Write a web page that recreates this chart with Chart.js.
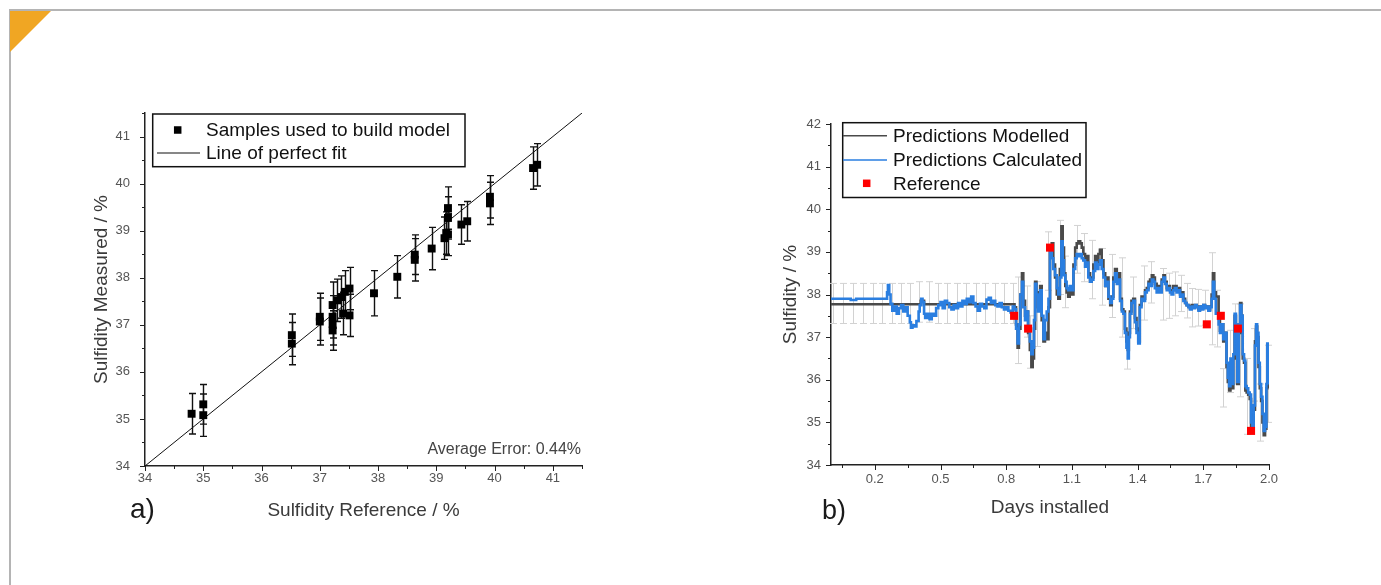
<!DOCTYPE html>
<html>
<head>
<meta charset="utf-8">
<script src="https://cdn.jsdelivr.net/npm/chart.js@4.4.1/dist/chart.umd.min.js"></script>
<style>
html,body{margin:0;padding:0;background:#fff;}
#page{position:relative;width:1381px;height:585px;overflow:hidden;font-family:"Liberation Sans",Arial,sans-serif;}
#frameTop{position:absolute;left:9px;top:9px;width:1372px;height:2px;background:#b4b4b4;}
#frameLeft{position:absolute;left:9px;top:9px;width:2px;height:576px;background:#b4b4b4;}
#corner{position:absolute;left:10px;top:11px;width:0;height:0;border-top:41px solid #f0a623;border-right:41px solid transparent;}
canvas{position:absolute;}
.lbl{position:absolute;white-space:nowrap;}
</style>
</head>
<body>
<div id="page">
  <div id="frameTop"></div>
  <div id="frameLeft"></div>
  <div id="corner"></div>
  <canvas id="chartA" width="540" height="436" style="left:60px;top:90px;width:540px;height:436px;"></canvas>
  <canvas id="chartB" width="560" height="430" style="left:750px;top:95px;width:560px;height:430px;"></canvas>
  <div class="lbl" style="left:130px;top:495px;font-size:28px;line-height:28px;color:#1a1a1a;">a)</div>
  <div class="lbl" style="left:822px;top:497px;font-size:27px;line-height:27px;color:#1a1a1a;">b)</div>
  <div class="lbl" style="right:800px;top:441px;font-size:16px;line-height:16px;color:#444;">Average Error: 0.44%</div>
</div>
<script>
// ---------- Chart a) data ----------
const sampleRef = [34.8,35.0,35.0,36.52,36.52,37.0,37.0,37.22,37.22,37.22,37.22,37.3,37.37,37.4,37.43,37.51,37.51,37.93,38.33,38.63,38.63,38.92,39.14,39.17,39.2,39.2,39.2,39.43,39.53,39.92,39.92,40.66,40.73];
const sampleMeas = [35.11,35.31,35.08,36.78,36.6,37.17,37.07,37.42,37.17,36.88,37.02,37.52,37.59,37.24,37.7,37.77,37.2,37.67,38.02,38.38,38.49,38.62,38.84,38.95,39.48,39.27,38.92,39.13,39.2,39.72,39.58,40.33,40.4];
const sampleErr = [0.43,0.42,0.45,0.45,0.45,0.5,0.5,0.49,0.45,0.42,0.45,0.45,0.45,0.45,0.45,0.45,0.45,0.48,0.45,0.45,0.42,0.45,0.45,0.45,0.45,0.45,0.45,0.42,0.42,0.45,0.45,0.45,0.45];
const perfectFit = [[34,34],[41.5,41.5]];
const aTicks = [34,34.5,35,35.5,36,36.5,37,37.5,38,38.5,39,39.5,40,40.5,41,41.5];
const aMajor = [34,35,36,37,38,39,40,41];

// ---------- Chart b) data ----------
const calculatedPoints = [
[0,37.90],[0.085,37.90],[0.09,37.87],[0.11,37.87],[0.115,37.90],[0.25,37.90],[0.256,38.05],[0.26,38.22],[0.266,38.0],[0.272,37.78],
[0.28,37.62],[0.29,37.72],[0.30,37.55],[0.31,37.68],[0.32,37.75],[0.33,37.6],[0.34,37.7],[0.35,37.5],[0.36,37.35],[0.365,37.22],
[0.372,37.28],[0.38,37.25],[0.39,37.38],[0.40,37.6],[0.405,37.75],[0.412,37.9],[0.418,37.82],[0.425,37.55],[0.43,37.45],[0.44,37.55],
[0.45,37.42],[0.46,37.55],[0.47,37.5],[0.48,37.68],[0.49,37.75],[0.50,37.82],[0.51,37.68],[0.52,37.85],[0.53,37.8],[0.54,37.7],
[0.55,37.65],[0.56,37.75],[0.57,37.68],[0.58,37.8],[0.59,37.72],[0.60,37.85],[0.61,37.78],[0.62,37.9],[0.63,37.82],[0.64,37.95],
[0.65,37.8],[0.66,37.72],[0.67,37.62],[0.68,37.78],[0.69,37.72],[0.70,37.68],[0.71,37.88],[0.72,37.92],[0.73,37.8],[0.74,37.85],
[0.75,37.75],[0.76,37.72],[0.77,37.8],[0.78,37.7],[0.79,37.65],[0.80,37.7],[0.81,37.62],[0.82,37.58],[0.83,37.72],[0.838,37.65],
[0.845,37.2],[0.852,36.85],[0.858,37.3],[0.865,38.0],[0.872,38.3],[0.878,37.7],[0.886,37.4],[0.893,37.6],[0.90,37.25],[0.908,36.9],
[0.915,36.6],[0.921,36.75],[0.927,37.4],[0.932,38.25],[0.938,38.0],[0.945,37.6],[0.95,37.8],[0.955,38.1],[0.962,37.5],[0.97,36.95],
[0.977,37.4],[0.985,37.6],[0.993,37.9],[1.0,39.0],[1.008,38.85],[1.015,38.6],[1.023,38.45],[1.031,38.15],[1.038,38.0],[1.045,38.4],
[1.052,39.25],[1.058,38.8],[1.064,38.45],[1.07,38.3],[1.076,38.15],[1.083,38.1],[1.09,38.2],[1.099,38.1],[1.107,38.6],[1.115,38.85],
[1.122,38.95],[1.13,38.9],[1.138,38.95],[1.145,38.85],[1.152,38.8],[1.16,38.65],[1.167,38.75],[1.175,38.4],[1.183,38.3],[1.19,38.35],
[1.198,38.55],[1.206,38.75],[1.213,38.6],[1.221,38.7],[1.228,38.8],[1.236,38.6],[1.244,38.4],[1.252,38.2],[1.259,38.3],[1.267,37.95],
[1.275,37.8],[1.282,37.9],[1.289,38.3],[1.297,38.5],[1.305,38.25],[1.312,38.35],[1.32,37.85],[1.328,37.6],[1.335,37.55],[1.342,37.1],
[1.349,36.75],[1.355,36.5],[1.36,37.0],[1.365,37.55],[1.372,37.8],[1.38,37.85],[1.388,37.35],[1.395,37.1],[1.403,36.85],[1.41,37.7],
[1.418,37.9],[1.426,37.85],[1.434,38.05],[1.442,38.1],[1.45,38.25],[1.457,38.2],[1.465,38.35],[1.472,38.3],[1.479,38.15],[1.487,38.05],
[1.495,38.15],[1.502,38.05],[1.51,38.3],[1.518,38.4],[1.525,38.25],[1.533,38.1],[1.54,38.15],[1.548,38.05],[1.555,38.0],[1.563,38.1],
[1.57,38.15],[1.578,38.05],[1.586,38.1],[1.594,37.95],[1.601,38.0],[1.609,37.85],[1.617,37.8],[1.624,37.75],[1.632,37.7],[1.639,37.65],
[1.647,37.72],[1.655,37.68],[1.662,37.75],[1.67,37.7],[1.678,37.62],[1.685,37.72],[1.693,37.65],[1.70,37.75],[1.708,37.68],[1.716,37.72],
[1.723,37.62],[1.731,37.7],[1.738,37.9],[1.744,38.3],[1.75,37.9],[1.757,37.55],[1.764,37.55],[1.77,37.3],[1.776,37.1],[1.783,37.3],
[1.791,36.95],[1.798,37.1],[1.806,36.4],[1.812,36.05],[1.818,35.85],[1.824,36.5],[1.83,35.9],[1.837,36.6],[1.843,37.55],[1.849,37.3],
[1.855,35.95],[1.862,37.2],[1.868,37.75],[1.874,37.5],[1.88,36.6],[1.886,36.45],[1.892,35.85],[1.898,35.8],[1.905,35.7],[1.912,35.65],
[1.918,35.0],[1.924,34.85],[1.93,35.4],[1.936,36.8],[1.941,37.3],[1.946,37.1],[1.952,36.4],[1.958,35.9],[1.964,35.6],[1.97,35.2],
[1.976,34.8],[1.982,34.9],[1.988,35.9],[1.992,36.85],[1.995,35.9]
];
const modelledPoints = [
[0,37.77],[0.40,37.77],[0.41,37.85],[0.42,37.85],[0.425,37.77],[0.83,37.77],[0.838,37.7],
[0.845,37.3],[0.852,36.75],[0.858,37.2],[0.865,38.0],[0.872,38.5],[0.878,37.85],[0.886,37.5],[0.893,37.6],[0.90,37.1],[0.908,36.7],
[0.915,36.3],[0.921,36.5],[0.927,37.2],[0.932,38.3],[0.938,38.05],[0.945,37.7],[0.95,37.85],[0.955,38.2],[0.962,37.4],[0.97,36.9],
[0.977,37.1],[0.985,36.95],[0.993,37.7],[1.0,39.1],[1.008,39.2],[1.015,38.7],[1.023,38.4],[1.031,38.0],[1.038,37.9],[1.045,38.6],
[1.052,39.6],[1.058,39.1],[1.064,38.5],[1.07,38.2],[1.076,38.05],[1.083,37.95],[1.09,38.1],[1.099,38.0],[1.107,38.7],[1.115,39.1],
[1.122,39.2],[1.13,39.25],[1.138,39.2],[1.145,39.1],[1.152,38.95],[1.16,38.8],[1.167,38.9],[1.175,38.5],[1.183,38.3],[1.19,38.4],
[1.198,38.7],[1.206,38.9],[1.213,38.75],[1.221,38.95],[1.228,39.05],[1.236,38.8],[1.244,38.5],[1.252,38.2],[1.259,38.4],[1.267,37.9],
[1.275,37.75],[1.282,37.95],[1.289,38.4],[1.297,38.6],[1.305,38.35],[1.312,38.5],[1.32,37.9],[1.328,37.65],[1.335,37.6],[1.342,37.2],
[1.349,36.9],[1.355,36.7],[1.36,37.1],[1.365,37.6],[1.372,37.85],[1.38,37.9],[1.388,37.45],[1.395,37.2],[1.403,36.9],[1.41,37.75],
[1.418,37.95],[1.426,37.9],[1.434,38.1],[1.442,38.15],[1.45,38.3],[1.457,38.35],[1.465,38.45],[1.472,38.4],[1.479,38.25],[1.487,38.15],
[1.495,38.2],[1.502,38.1],[1.51,38.35],[1.518,38.45],[1.525,38.3],[1.533,38.15],[1.54,38.2],[1.548,38.1],[1.555,38.1],[1.563,38.2],
[1.57,38.2],[1.578,38.1],[1.586,38.15],[1.594,38.0],[1.601,38.05],[1.609,37.9],[1.617,37.8],[1.624,37.75],[1.632,37.72],[1.639,37.68],
[1.647,37.75],[1.655,37.7],[1.662,37.75],[1.67,37.72],[1.678,37.65],[1.685,37.72],[1.693,37.68],[1.70,37.75],[1.708,37.7],[1.716,37.72],
[1.723,37.65],[1.731,37.72],[1.738,38.0],[1.744,38.5],[1.75,38.05],[1.757,37.95],[1.764,37.95],[1.77,37.5],[1.776,37.15],[1.783,37.3],
[1.791,36.9],[1.798,37.1],[1.806,36.3],[1.812,35.95],[1.818,35.75],[1.824,36.4],[1.83,35.8],[1.837,36.5],[1.843,37.5],[1.849,37.3],
[1.855,35.9],[1.862,37.1],[1.868,37.8],[1.874,37.5],[1.88,36.5],[1.886,36.4],[1.892,35.75],[1.898,35.7],[1.905,35.65],[1.912,35.55],
[1.918,34.9],[1.924,34.8],[1.93,35.3],[1.936,36.9],[1.941,37.25],[1.946,37.0],[1.952,36.3],[1.958,35.8],[1.964,35.5],[1.97,35.0],
[1.976,34.7],[1.982,34.85],[1.988,35.8],[1.992,36.8],[1.995,35.8]
];
const referenceDays = [0.836,0.90,1.0,1.716,1.78,1.858,1.918];
const referenceValues = [37.5,37.2,39.1,37.3,37.5,37.2,34.8];
const errDays = [0.011,0.056,0.102,0.148,0.19,0.231,0.277,0.318,0.361,0.403,0.447,0.49,0.531,0.574,0.617,0.66,0.703,0.749,0.79,0.829,
  0.852,0.893,0.908,0.939,0.99,1.046,1.068,1.122,1.157,1.19,1.236,1.281,1.327,1.35,1.381,1.429,1.461,1.515,1.545,1.571,1.597,1.624,1.647,1.677,1.708,1.738,1.761,1.791,1.822,1.845,1.868,1.9,1.93,1.96,1.997];
const errLow = [37.32,37.32,37.32,37.32,37.32,37.32,37.32,37.32,37.32,37.35,37.35,37.32,37.32,37.32,37.32,37.32,37.32,37.32,37.32,37.32,
  36.38,37.0,36.27,36.78,38.1,38.0,37.69,38.5,38.3,37.9,37.75,37.46,37.0,36.25,37.2,37.4,37.8,37.4,37.44,37.5,37.6,37.45,37.24,37.26,37.28,36.82,36.77,35.36,35.7,35.9,35.6,34.72,35.5,34.56,35.0];
const errHigh = [38.26,38.26,38.26,38.26,38.26,38.26,38.26,38.26,38.26,38.3,38.3,38.26,38.26,38.26,38.26,38.26,38.26,38.26,38.26,38.26,
  38.41,38.2,37.5,38.3,39.47,39.74,38.9,39.62,39.43,39.27,39.08,38.94,38.86,37.12,38.41,38.67,38.77,38.61,38.5,38.53,38.45,38.26,38.14,38.12,38.1,38.98,38.1,36.26,37.16,37.78,37.78,36.5,37.2,35.9,36.81];
const bTicksX = [0.05,0.2,0.35,0.5,0.65,0.8,0.95,1.1,1.25,1.4,1.55,1.7,1.85,2.0];
const bMajorX = [0.2,0.5,0.8,1.1,1.4,1.7,2.0];
const bTicksY = [34,34.5,35,35.5,36,36.5,37,37.5,38,38.5,39,39.5,40,40.5,41,41.5,42];
const bMajorY = [34,35,36,37,38,39,40,41,42];

// ---------- plugins ----------
const FONT = '"Liberation Sans", Arial, sans-serif';
const near = (arr, v) => arr.some(a => Math.abs(a - v) < 1e-6);

const tickMarkPlugin = {
  id: 'tickMarks',
  afterDraw(chart, args, o) {
    const ctx = chart.ctx, area = chart.chartArea;
    const xs = chart.scales.x, ys = chart.scales.y;
    ctx.save();
    ctx.strokeStyle = o.color; ctx.lineWidth = o.width;
    xs.ticks.forEach(t => {
      const p = Math.round(xs.getPixelForValue(t.value)) + 0.5;
      const len = near(o.majorX, t.value) ? o.major : o.minor;
      ctx.beginPath(); ctx.moveTo(p, area.bottom); ctx.lineTo(p, area.bottom + len); ctx.stroke();
    });
    ys.ticks.forEach(t => {
      const p = Math.round(ys.getPixelForValue(t.value)) + 0.5;
      const len = near(o.majorY, t.value) ? o.major : o.minor;
      ctx.beginPath(); ctx.moveTo(area.left - len, p); ctx.lineTo(area.left, p); ctx.stroke();
    });
    ctx.restore();
  }
};

const errorBarPlugin = {
  id: 'errorBars',
  beforeDatasetsDraw(chart, args, o) {
    const ctx = chart.ctx, xs = chart.scales.x, ys = chart.scales.y;
    ctx.save();
    ctx.strokeStyle = o.color; ctx.lineWidth = o.width;
    for (let i = 0; i < o.xs.length; i++) {
      const px = Math.round(xs.getPixelForValue(o.xs[i])) + 0.5;
      const pt = ys.getPixelForValue(o.hi[i]);
      const pb = ys.getPixelForValue(o.lo[i]);
      ctx.beginPath();
      ctx.moveTo(px, pt); ctx.lineTo(px, pb);
      ctx.moveTo(px - o.cap, pt); ctx.lineTo(px + o.cap, pt);
      ctx.moveTo(px - o.cap, pb); ctx.lineTo(px + o.cap, pb);
      ctx.stroke();
    }
    ctx.restore();
  }
};

const legendBoxPlugin = {
  id: 'legendBox',
  afterDraw(chart, args, o) {
    const ctx = chart.ctx;
    ctx.save();
    ctx.strokeStyle = '#111'; ctx.lineWidth = 1.5;
    ctx.strokeRect(o.box[0], o.box[1], o.box[2] - o.box[0], o.box[3] - o.box[1]);
    ctx.font = o.fontSize + 'px ' + FONT;
    ctx.textBaseline = 'middle'; ctx.textAlign = 'left';
    o.items.forEach((di, k) => {
      const ds = chart.data.datasets[di];
      const y = o.rows[k];
      if (o.kinds[k] === 'line') {
        ctx.strokeStyle = ds.borderColor; ctx.lineWidth = o.lineWidth;
        ctx.beginPath(); ctx.moveTo(o.lineX[0], y); ctx.lineTo(o.lineX[1], y); ctx.stroke();
      } else {
        ctx.fillStyle = ds.backgroundColor;
        const s = o.markSize;
        ctx.fillRect(o.markX - s / 2, y - s / 2, s, s);
      }
      ctx.fillStyle = '#111';
      ctx.fillText(ds.label, o.textX, y + 1);
    });
    ctx.restore();
  }
};

const tickFont = {family: FONT, size: 13};
const titleFont = {family: FONT, size: 19};

// ---------- chart a ----------
new Chart(document.getElementById('chartA'), {
  type: 'scatter',
  data: {
    datasets: [
      {
        label: 'Samples used to build model',
        data: sampleRef.map((x, i) => ({x, y: sampleMeas[i]})),
        pointStyle: 'rect', pointRadius: 5.6, pointHoverRadius: 5.6,
        backgroundColor: '#000', borderColor: '#000', borderWidth: 0, order: 0
      },
      {
        label: 'Line of perfect fit',
        data: perfectFit.map(p => ({x: p[0], y: p[1]})),
        showLine: true, pointRadius: 0, borderColor: '#111', borderWidth: 1,
        backgroundColor: '#111', order: 1
      }
    ]
  },
  options: {
    responsive: false, animation: false,
    layout: {padding: {left: 0, top: 23, right: 18, bottom: 0}},
    plugins: {
      legend: {display: false}, tooltip: {enabled: false},
      tickMarks: {color: '#222', width: 1, major: 5, minor: 3, majorX: aMajor, majorY: aMajor},
      errorBars: {xs: sampleRef, lo: sampleMeas.map((v, i) => v - sampleErr[i]), hi: sampleMeas.map((v, i) => v + sampleErr[i]), color: '#111', width: 1.4, cap: 3.5},
      legendBox: {box: [92.7, 24, 405, 76.7], rows: [40, 63], items: [0, 1], kinds: ['rect', 'line'],
        lineX: [97, 140], markX: 117.7, markSize: 7.5, textX: 146, fontSize: 19, lineWidth: 1.2}
    },
    scales: {
      x: {
        type: 'linear', min: 34, max: 41.5,
        afterFit: s => { s.height = 60; },
        afterBuildTicks: s => { s.ticks = aTicks.map(v => ({value: v})); },
        grid: {display: false, drawTicks: false},
        border: {display: true, color: '#222', width: 1.5},
        ticks: {autoSkip: false, maxRotation: 0, padding: 5, color: '#555', font: tickFont,
          callback: v => near(aMajor, v) ? String(v) : ''},
        title: {display: true, text: 'Sulfidity Reference / %', color: '#3a3a3a', font: titleFont, padding: {top: 0, bottom: 4}}
      },
      y: {
        type: 'linear', min: 34, max: 41.5,
        afterFit: s => { s.width = 85; },
        afterBuildTicks: s => { s.ticks = aTicks.map(v => ({value: v})); },
        grid: {display: false, drawTicks: false},
        border: {display: true, color: '#222', width: 1.5},
        ticks: {autoSkip: false, padding: 15, color: '#555', font: tickFont,
          callback: v => near(aMajor, v) ? String(v) : ''},
        title: {display: true, text: 'Sulfidity Measured / %', color: '#3a3a3a', font: titleFont, padding: {top: 30, bottom: 0}}
      }
    }
  },
  plugins: [errorBarPlugin, tickMarkPlugin, legendBoxPlugin]
});

// ---------- chart b ----------
new Chart(document.getElementById('chartB'), {
  type: 'scatter',
  data: {
    datasets: [
      {
        label: 'Predictions Modelled',
        data: modelledPoints.map(p => ({x: p[0], y: p[1]})),
        showLine: true, stepped: true, pointRadius: 0, borderColor: '#4a4a4a', backgroundColor: '#4a4a4a',
        borderWidth: 2.6, order: 2
      },
      {
        label: 'Predictions Calculated',
        data: calculatedPoints.map(p => ({x: p[0], y: p[1]})),
        showLine: true, stepped: true, pointRadius: 0, borderColor: '#2a7ee0', backgroundColor: '#2a7ee0',
        borderWidth: 2.6, order: 1
      },
      {
        label: 'Reference',
        data: referenceDays.map((x, i) => ({x, y: referenceValues[i]})),
        pointStyle: 'rect', pointRadius: 5.7, pointHoverRadius: 5.7,
        backgroundColor: '#ff0000', borderColor: '#ff0000', borderWidth: 0, order: 0
      }
    ]
  },
  options: {
    responsive: false, animation: false,
    layout: {padding: {left: 0, top: 29, right: 41, bottom: 0}},
    plugins: {
      legend: {display: false}, tooltip: {enabled: false},
      tickMarks: {color: '#222', width: 1, major: 5, minor: 3, majorX: bMajorX, majorY: bMajorY},
      errorBars: {xs: errDays, lo: errLow, hi: errHigh, color: '#d2d2d2', width: 1, cap: 3.5},
      legendBox: {box: [92.7, 27.7, 336, 102.5], rows: [40.7, 65, 88.3], items: [0, 1, 2], kinds: ['line', 'line', 'rect'],
        lineX: [93, 137], markX: 116.7, markSize: 7.5, textX: 143, fontSize: 19, lineWidth: 1.5}
    },
    scales: {
      x: {
        type: 'linear', min: 0, max: 2.0,
        afterFit: s => { s.height = 60; },
        afterBuildTicks: s => { s.ticks = bTicksX.map(v => ({value: v})); },
        grid: {display: false, drawTicks: false},
        border: {display: true, color: '#222', width: 1.5},
        ticks: {autoSkip: false, maxRotation: 0, padding: 7, color: '#555', font: tickFont,
          callback: v => near(bMajorX, v) ? Number(v).toFixed(1) : ''},
        title: {display: true, text: 'Days installed', color: '#3a3a3a', font: titleFont, padding: {top: 0, bottom: 6}}
      },
      y: {
        type: 'linear', min: 34, max: 42,
        afterFit: s => { s.width = 81; },
        afterBuildTicks: s => { s.ticks = bTicksY.map(v => ({value: v})); },
        grid: {display: false, drawTicks: false},
        border: {display: true, color: '#222', width: 1.5},
        ticks: {autoSkip: false, padding: 10, color: '#555', font: tickFont,
          callback: v => near(bMajorY, v) ? String(v) : ''},
        title: {display: true, text: 'Sulfidity / %', color: '#3a3a3a', font: titleFont, padding: {top: 29, bottom: 0}}
      }
    }
  },
  plugins: [errorBarPlugin, tickMarkPlugin, legendBoxPlugin]
});
</script>
</body>
</html>
